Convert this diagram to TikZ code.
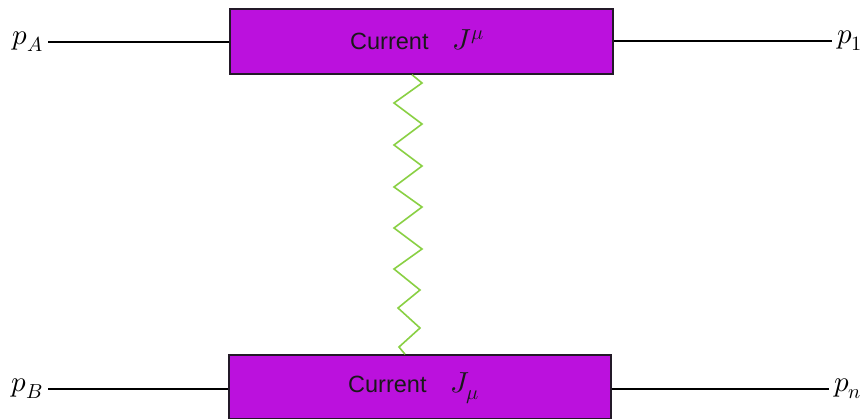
\documentclass[tikz,border=0pt]{standalone}
\usepackage{fontspec}
\usepackage{unicode-math}
\setmathfont{Latin Modern Math}
\newfontfamily\boxfont{Liberation Sans}
\definecolor{boxpurple}{RGB}{187,17,221}
\definecolor{boxline}{RGB}{35,25,40}
\definecolor{springgreen}{RGB}{137,208,67}
\tikzset{
  currentbox/.style={draw=boxline, fill=boxpurple, line width=1.5pt, inner sep=0pt},
  boxtext/.style={inner sep=0pt, font=\boxfont\fontsize{23.5}{28}\selectfont, text=black!90},
  momlabel/.style={inner sep=5pt, font=\fontsize{29}{34}\selectfont},
  leg/.style={line width=1.3pt, black},
  spring/.style={line width=1.6pt, springgreen, line join=miter}
}
\begin{document}
\begin{tikzpicture}[x=1pt,y=-1pt]
\useasboundingbox (0,0) rectangle (867,419);
\fill[white] (0,0) rectangle (867,419);
\node[currentbox, minimum width=383pt, minimum height=65pt] (top) at (421.5,41.5) {};
\node[currentbox, minimum width=382pt, minimum height=64pt] (bot) at (420,387) {};
\node[boxtext, anchor=west] (ttop) at (350,40) {Current\hspace{1em}{\fontsize{29}{34}\selectfont$J^{\mu}$}};
\node[boxtext, anchor=west] (tbot) at (348,388) {Current\hspace{1em}{\fontsize{29}{34}\selectfont$J_{\mu}$}};
\node[momlabel, anchor=east] (pA) at (48,42) {$p_A$};
\node[momlabel, anchor=east] (pB) at (48,389) {$p_B$};
\node[momlabel, anchor=west] (p1) at (832,41) {$p_1$};
\node[momlabel, anchor=west] (pn) at (829,389) {$p_n$};
\draw[leg] (pA.east) -- (top.west |- pA.east);
\draw[leg] (top.east |- p1.west) -- (p1.west);
\draw[leg] (pB.east) -- (bot.west |- pB.east);
\draw[leg] (bot.east |- pn.west) -- (pn.west);
\coordinate (zs) at (top.south -| 412,0);
\coordinate (ze) at (bot.north -| 405,0);
\draw[spring] (zs) -- (422,83) -- (394,103) -- (422,124) -- (394,145) -- (422,166)
  -- (394,187) -- (422,207) -- (394,228) -- (422,249) -- (394,269) -- (420,290)
  -- (398,308) -- (420,328) -- (399,347) -- (ze);
\end{tikzpicture}
\end{document}
